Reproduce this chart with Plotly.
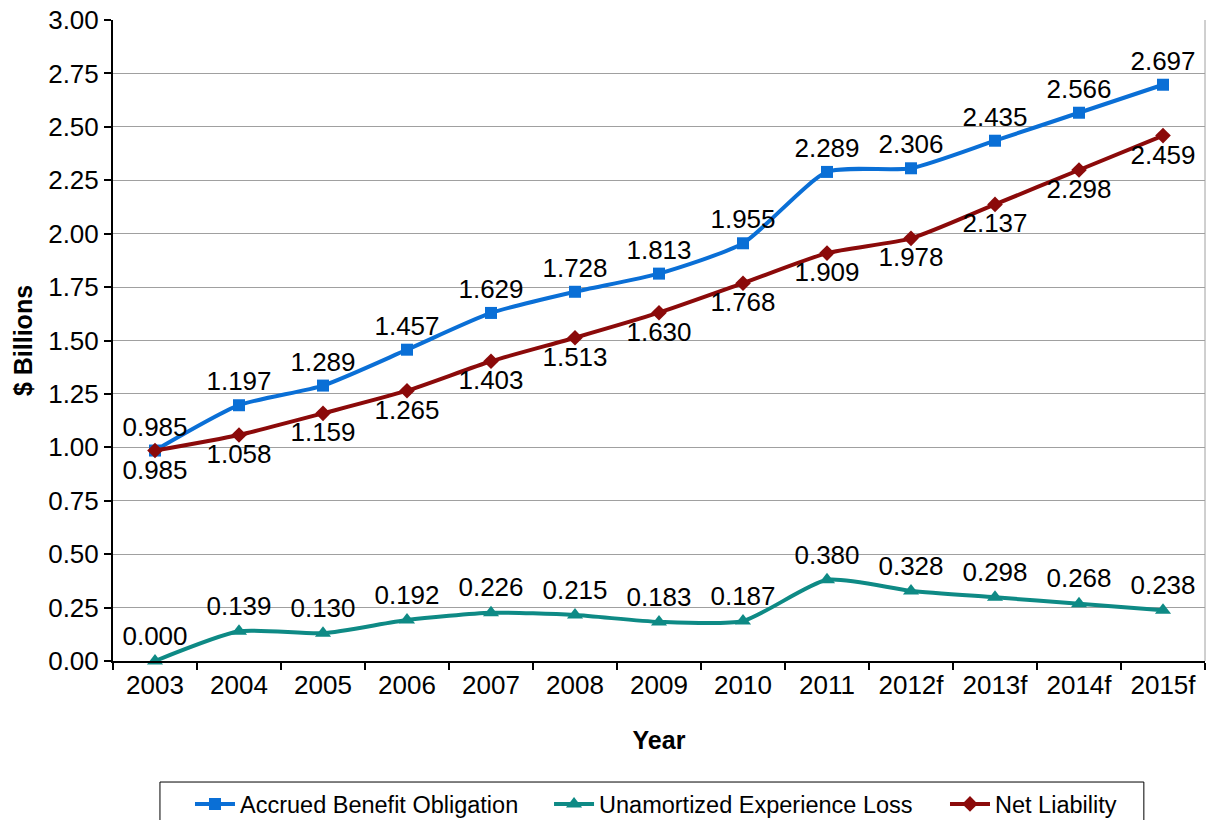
import plotly.graph_objects as go

years = ["2003", "2004", "2005", "2006", "2007", "2008", "2009", "2010", "2011", "2012f", "2013f", "2014f", "2015f"]
abo = [0.985, 1.197, 1.289, 1.457, 1.629, 1.728, 1.813, 1.955, 2.289, 2.306, 2.435, 2.566, 2.697]
uel = [0.000, 0.139, 0.130, 0.192, 0.226, 0.215, 0.183, 0.187, 0.380, 0.328, 0.298, 0.268, 0.238]
net = [0.985, 1.058, 1.159, 1.265, 1.403, 1.513, 1.630, 1.768, 1.909, 1.978, 2.137, 2.298, 2.459]

FONT = "Liberation Sans, Arial, sans-serif"
LBL = 26

fig = go.Figure()
fig.add_trace(go.Scatter(
    x=years, y=abo, name="Accrued Benefit Obligation", legend="legend",
    mode="lines+markers+text", line=dict(color="#0A6FD6", width=4, shape="spline", smoothing=0.6),
    marker=dict(symbol="square", size=12, color="#0A6FD6"),
    text=[f"{v:.3f}" for v in abo], textposition="top center",
    textfont=dict(family=FONT, size=LBL, color="black"), cliponaxis=False))
fig.add_trace(go.Scatter(
    x=years, y=uel, name="Unamortized Experience Loss", legend="legend2",
    mode="lines+markers+text", line=dict(color="#0E8A85", width=4, shape="spline", smoothing=0.6),
    marker=dict(symbol="triangle-up", size=14, color="#0E8A85"),
    text=[f"{v:.3f}" for v in uel], textposition="top center",
    textfont=dict(family=FONT, size=LBL, color="black"), cliponaxis=False))
fig.add_trace(go.Scatter(
    x=years, y=net, name="Net Liability", legend="legend3",
    mode="lines+markers+text", line=dict(color="#8B0A0A", width=4, shape="spline", smoothing=0.6),
    marker=dict(symbol="diamond", size=12, color="#8B0A0A"),
    text=[f"{v:.3f}" for v in net], textposition="bottom center",
    textfont=dict(family=FONT, size=LBL, color="black"), cliponaxis=False))

leg_common = dict(orientation="h", y=-0.189, yanchor="top", xanchor="left",
                  borderwidth=0, bgcolor="rgba(0,0,0,0)",
                  font=dict(family=FONT, size=23.5), itemwidth=40)

fig.update_layout(
    width=1211, height=820,
    margin=dict(l=113, r=6, t=20, b=159, autoexpand=False),
    paper_bgcolor="white", plot_bgcolor="white",
    font=dict(family=FONT, size=26, color="black"),
    showlegend=True,
    legend=dict(x=0.0705, **leg_common),
    legend2=dict(x=0.3993, **leg_common),
    legend3=dict(x=0.7619, **leg_common),
    xaxis=dict(type="category", title=dict(text="<b>Year</b>", font=dict(size=25), standoff=32),
               showline=True, linecolor="black", linewidth=2, ticks="outside", ticklen=7,
               tickwidth=1.5, tickcolor="black", tickson="boundaries", showgrid=False,
               tickfont=dict(size=26), range=[-0.5, 12.5]),
    yaxis=dict(title=dict(text="<b>$ Billions</b>", font=dict(size=25), standoff=8),
               range=[0, 3.0], dtick=0.25, tickformat=".2f",
               showline=True, linecolor="black", linewidth=2, ticks="outside", ticklen=7,
               tickwidth=1.5, tickcolor="black", gridcolor="#A0A0A0", gridwidth=1,
               tickfont=dict(size=26), zeroline=False, mirror=False),
    shapes=[dict(type="line", xref="paper", yref="paper", x0=1, x1=1, y0=0, y1=1,
                 line=dict(color="#A0A0A0", width=1)),
            dict(type="rect", xref="paper", yref="paper", x0=0.043, x1=0.944,
                 y0=-0.1888, y1=-0.275, line=dict(color="black", width=1),
                 fillcolor="rgba(0,0,0,0)")]
)

fig.write_html("out.html", config={"displayModeBar": False},
               post_script="document.body.style.margin='0px';")
